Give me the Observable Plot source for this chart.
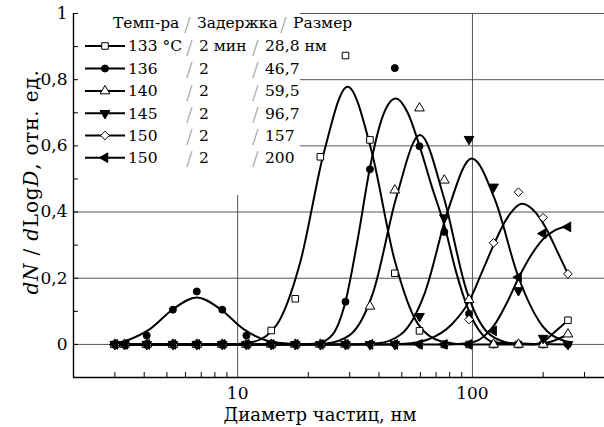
<!DOCTYPE html>
<html><head><meta charset="utf-8">
<script src="https://cdn.jsdelivr.net/npm/d3@7"></script>
<script src="https://cdn.jsdelivr.net/npm/@observablehq/plot@0.6"></script>
<style>body{margin:0;background:#fff}#chart{width:604px;height:427px}</style>
</head><body><div id="chart"></div>
<script>
// Sample diameters (nm)
const diameters = [3.0, 3.3, 4.1, 5.3, 6.7, 8.6, 10.9, 13.9, 17.6, 22.5, 28.8, 36.6, 46.7, 59.5, 75.9, 96.7, 123, 157, 200, 255];
// Measured values per series
const v133 = [0,0,0,0,0,0,0,0.042,0.138,0.567,0.873,0.618,0.215,0.041,0,0,0,0,0,0.073];
const v136 = [0,0,0.027,0.105,0.16,0.105,0.027,0,0,0,0.129,0.529,0.835,0.599,0.34,0.093,0,0,0,0];
const v140 = [0,0,0,0,0,0,0,0,0,0,0,0.115,0.466,0.714,0.496,0.135,0,0,0,0.031];
const v145 = [0,0,0,0,0,0,0,0,0,0,0,0,0,0.085,0.383,0.62,0.476,0.163,0.019,0];
const v150a = [0,0,0,0,0,0,0,0,0,0,0,0,0,0,0,0.075,0.307,0.46,0.383,0.213];
const v150b = [0,0,0,0,0,0,0,0,0,0,0,0,0,0,0,0,0.041,0.203,0.335,0.355];
// Fitted curves
const fit133X = [3, 9.0, 11.7, 14.7, 18.5, 23.3, 29.4, 37.0, 46.6, 58.6, 73.8, 95, 180, 200, 222, 255];
const fit133Y = [0, 0, 0.008, 0.06, 0.25, 0.58, 0.779, 0.59, 0.255, 0.062, 0.009, 0, 0, 0.008, 0.035, 0.073];
const fit136X = [3, 3.36, 4.23, 5.32, 6.7, 8.43, 10.6, 13.4, 16.8, 20, 22.4, 25.4, 28.8, 32.5, 36.6, 41.5, 47.2, 53, 59.5, 67.6, 75.9, 85.1, 96.7, 110, 126, 255];
const fit136Y = [0, 0.011, 0.046, 0.107, 0.142, 0.107, 0.046, 0.011, 0.002, 0.001, 0.005, 0.03, 0.13, 0.32, 0.534, 0.69, 0.743, 0.70, 0.60, 0.47, 0.36, 0.22, 0.10, 0.03, 0.005, 0];
const fit140X = [3, 20, 23.8, 30.0, 37.8, 47.5, 59.8, 75.3, 94.8, 119.4, 150, 185, 215, 255];
const fit140Y = [0, 0, 0.0025, 0.028, 0.158, 0.447, 0.633, 0.447, 0.158, 0.028, 0.0025, 0, 0.008, 0.03];
const fit145X = [3, 30, 39.5, 49.8, 62.7, 78.9, 99.3, 125, 157, 198, 249, 255];
const fit145Y = [0, 0, 0.0034, 0.0315, 0.156, 0.408, 0.562, 0.435, 0.203, 0.057, 0.0095, 0.007];
const fit150aX = [3, 40, 51.4, 64.7, 81.5, 96.7, 110, 123, 140, 162.6, 185, 204.6, 230, 255];
const fit150aY = [0, 0, 0.002, 0.015, 0.06, 0.13, 0.22, 0.30, 0.38, 0.425, 0.40, 0.354, 0.28, 0.213];
const fit150bX = [3, 80, 96.7, 110, 123, 140, 157, 178, 200, 225, 255];
const fit150bY = [0, 0, 0.004, 0.02, 0.055, 0.125, 0.2, 0.27, 0.318, 0.345, 0.358];
// Legend texts
const legendTemp = ["133 °C", "136", "140", "145", "150", "150"];
const legendDelay = ["2 мин", "2", "2", "2", "2", "2"];
const legendSize = ["28,8 нм", "46,7", "59,5", "96,7", "157", "200"];
const legendHeader = ["Темп-ра", "Задержка", "Размер"];
// Axis ticks
const xLabelTicks = [10, 100];
const xMinorTicks = [3,4,5,6,7,8,9,20,30,40,50,60,70,80,90,200,300];
const yLabelTicks = [0, 0.2, 0.4, 0.6, 0.8, 1];
const yAllTicks = [0,0.1,0.2,0.3,0.4,0.5,0.6,0.7,0.8,0.9,1];

const s3 = Math.sqrt(3);
const triangleDown = {draw(c, size){ const y = -Math.sqrt(size/(s3*3)); c.moveTo(0,-y*2); c.lineTo(-s3*y, y); c.lineTo(s3*y, y); c.closePath(); }};
const triangleLeft = {draw(c, size){ const y = -Math.sqrt(size/(s3*3)); c.moveTo(y*2,0); c.lineTo(-y, -s3*y); c.lineTo(-y, s3*y); c.closePath(); }};

const seriesDefs = [
  {vals: v133, fx: fit133X, fy: fit133Y, symbol: d3.symbolSquare, fill: "white", r: 3.7},
  {vals: v136, fx: fit136X, fy: fit136Y, symbol: d3.symbolCircle, fill: "black", r: 3.5},
  {vals: v140, fx: fit140X, fy: fit140Y, symbol: d3.symbolTriangle, fill: "white", r: 3.6},
  {vals: v145, fx: fit145X, fy: fit145Y, symbol: triangleDown, fill: "black", r: 3.6},
  {vals: v150a, fx: fit150aX, fy: fit150aY, symbol: d3.symbolDiamond2, fill: "white", r: 3.9},
  {vals: v150b, fx: fit150bX, fy: fit150bY, symbol: triangleLeft, fill: "black", r: 3.6}
];

const grid = "#555";
const marks = [
  Plot.ruleY([0, 0.2, 0.4], {stroke: grid}),
  Plot.ruleY([0.6, 0.8, 1.0], {x1: () => 18.5, x2: () => 365, stroke: grid}),
  Plot.ruleX([100], {stroke: grid}),
  Plot.ruleX([10], {y1: () => -0.1, y2: () => 0.45, stroke: grid}),
  Plot.ruleX(xMinorTicks, {y1: () => -0.1, y2: () => -0.085, stroke: "#000"}),
  Plot.ruleY(yAllTicks, {x1: () => 2, x2: () => 2.1, stroke: "#000"}),
  Plot.ruleX([2], {stroke: "#000", strokeWidth: 1.4}),
  Plot.ruleY([-0.1], {stroke: "#000", strokeWidth: 1.4})
];
for (const s of seriesDefs) {
  const fit = s.fx.map((x, i) => ({x, y: s.fy[i]}));
  marks.push(Plot.line(fit, {x: "x", y: "y", curve: "monotone-x", stroke: "#000", strokeWidth: 2}));
}
for (const s of seriesDefs) {
  const pts = diameters.map((d, i) => ({x: d, y: s.vals[i]}));
  marks.push(Plot.dot(pts, {x: "x", y: "y", symbol: s.symbol, r: s.r, fill: s.fill, stroke: "#000", strokeWidth: 1}));
}
marks.push(Plot.axisX({ticks: xLabelTicks, tickSize: 0, tickPadding: 9, tickFormat: d => String(d), label: null, fontSize: 17}));
marks.push(Plot.axisY({ticks: yLabelTicks, tickSize: 0, tickPadding: 6, label: null, fontSize: 17,
  tickFormat: d => d === 0 ? "0" : d === 1 ? "1" : d.toFixed(1).replace(".", ",")}));

const svg = Plot.plot({
  width: 604, height: 427,
  marginTop: 13, marginBottom: 50, marginLeft: 73, marginRight: 0,
  x: {type: "log", domain: [2, 365]},
  y: {domain: [-0.1, 1]},
  style: {fontFamily: "DejaVu Serif", fontSize: "17px", color: "#000", background: "#fff", overflow: "visible"},
  marks
});
document.getElementById("chart").appendChild(svg);

const sel = d3.select(svg);
// legend
const lg = sel.append("g").attr("font-family", "DejaVu Serif").attr("font-size", 15.5)
  .attr("fill", "#000").attr("text-anchor", "start");
const rowY = [23, 46, 68.5, 91, 113.3, 135.5, 157.7];
const slashColor = "#999";
function slash(g, x) {
  g.append("text").attr("x", x).attr("dy", "0.38em").attr("font-size", 20).attr("fill", slashColor)
    .attr("font-family", "DejaVu Sans").attr("font-weight", 200).text("/");
}
const hdr = lg.append("g").attr("transform", `translate(0,${rowY[0]})`);
hdr.append("text").attr("x", 113).attr("dy", "0.35em").text(legendHeader[0]);
slash(hdr, 184);
hdr.append("text").attr("x", 197).attr("dy", "0.35em").text(legendHeader[1]);
slash(hdr, 280);
hdr.append("text").attr("x", 293).attr("dy", "0.35em").text(legendHeader[2]);
seriesDefs.forEach((s, i) => {
  const g = lg.append("g").attr("transform", `translate(0,${rowY[i + 1]})`);
  g.append("line").attr("x1", 85).attr("x2", 125).attr("stroke", "#000").attr("stroke-width", 2);
  g.append("path").attr("transform", "translate(105,0)")
    .attr("d", d3.symbol(s.symbol, s.r * s.r * Math.PI)())
    .attr("fill", s.fill).attr("stroke", "#000");
  g.append("text").attr("x", 128).attr("dy", "0.35em").text(legendTemp[i]);
  slash(g, 186);
  g.append("text").attr("x", 199).attr("dy", "0.35em").text(legendDelay[i]);
  slash(g, 252);
  g.append("text").attr("x", 265).attr("dy", "0.35em").text(legendSize[i]);
});
// axis titles
sel.append("text").attr("x", 320).attr("y", 421).attr("text-anchor", "middle")
  .attr("font-family", "DejaVu Serif").attr("font-size", 18).text("Диаметр частиц, нм");
const yl = sel.append("text").attr("transform", "translate(31,182) rotate(-90)").attr("text-anchor", "middle")
  .attr("font-family", "DejaVu Serif").attr("font-size", 20).attr("letter-spacing", 0.8).attr("dy", "0.35em");
yl.append("tspan").attr("font-style", "italic").text("dN");
yl.append("tspan").text(" / ");
yl.append("tspan").attr("font-style", "italic").text("d");
yl.append("tspan").text("Log");
yl.append("tspan").attr("font-style", "italic").text("D");
yl.append("tspan").text(", отн. ед.");
</script>
</body></html>
